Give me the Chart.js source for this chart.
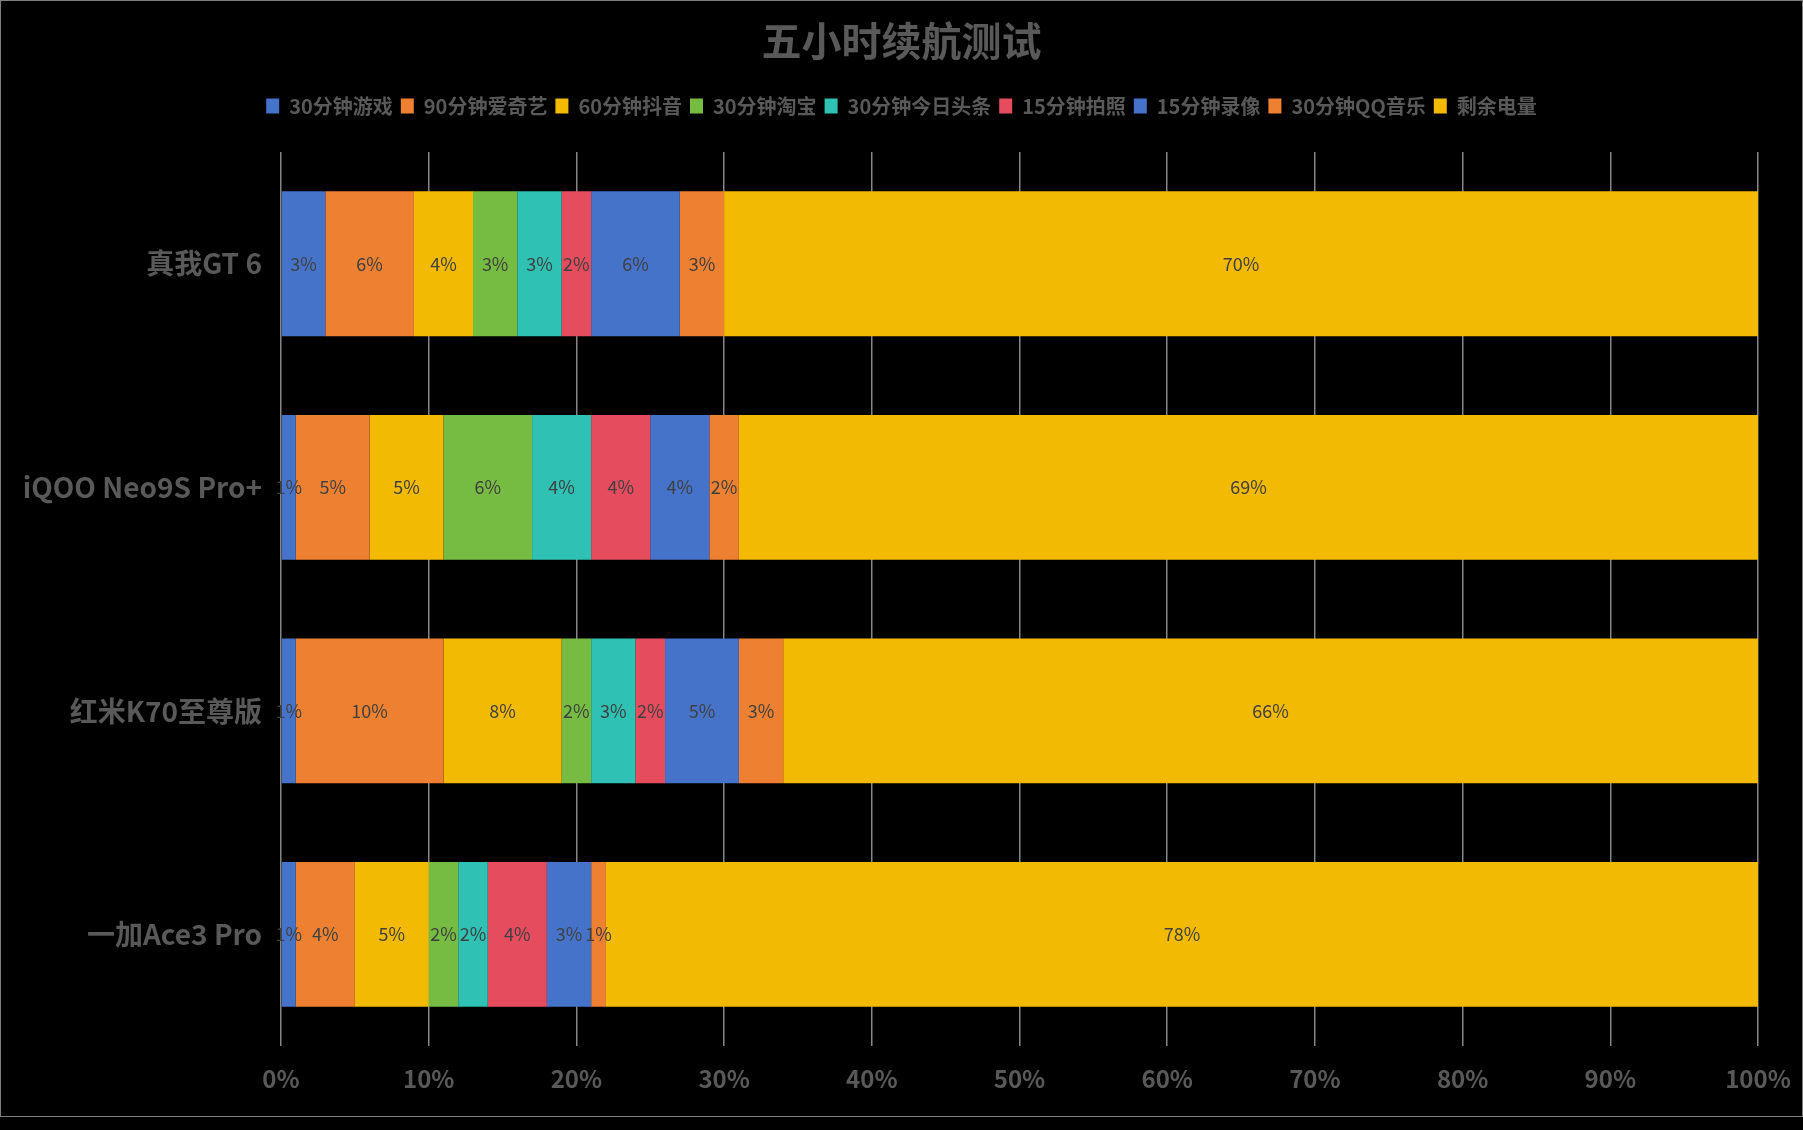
<!DOCTYPE html>
<html>
<head>
<meta charset="utf-8">
<script src="https://cdn.jsdelivr.net/npm/chart.js@4.4.1/dist/chart.umd.min.js"></script>
<style>
  html, body { margin: 0; padding: 0; background: #000; }
  #wrap { position: absolute; left: 0; top: 0; width: 1801px; height: 1115px; border: 1px solid #7f7f7f; }
</style>
</head>
<body>
<div id="wrap"><canvas id="batteryChart"></canvas></div>
<script>
// phones, top to bottom
const phones = ['真我GT 6', 'iQOO Neo9S Pro+', '红米K70至尊版', '一加Ace3 Pro'];

// battery used per task (%)
const game30 = [3, 1, 1, 1];
const iqiyi90 = [6, 5, 10, 4];
const douyin60 = [4, 5, 8, 5];
const taobao30 = [3, 6, 2, 2];
const toutiao30 = [3, 4, 3, 2];
const photo15 = [2, 4, 2, 4];
const video15 = [6, 4, 5, 3];
const qqmusic30 = [3, 2, 3, 1];
const remaining = [70, 69, 66, 78];

const seriesNames = ['30分钟游戏', '90分钟爱奇艺', '60分钟抖音', '30分钟淘宝', '30分钟今日头条',
  '15分钟拍照', '15分钟录像', '30分钟QQ音乐', '剩余电量'];
const seriesData = [game30, iqiyi90, douyin60, taobao30, toutiao30, photo15, video15, qqmusic30, remaining];
const seriesColors = ['#4673CA', '#EE8131', '#F2BA02', '#77BC42', '#2FC1B3', '#E54C5E', '#4673CA', '#EE8131', '#F2BA02'];

const FONT = '"Noto Sans CJK SC", "Noto Sans", sans-serif';

// draws the % text in the middle of each segment
const valueLabels = {
  id: 'valueLabels',
  afterDatasetsDraw(chart) {
    const ctx = chart.ctx;
    ctx.save();
    ctx.font = '18px ' + FONT;
    ctx.fillStyle = '#404040';
    ctx.textAlign = 'center';
    ctx.textBaseline = 'middle';
    chart.data.datasets.forEach((ds, i) => {
      chart.getDatasetMeta(i).data.forEach((bar, j) => {
        ctx.fillText(ds.data[j] + '%', (bar.x + bar.base) / 2, bar.y);
      });
    });
    ctx.restore();
  }
};

// extra gap between legend and plot
const legendGap = {
  id: 'legendGap',
  beforeInit(chart) {
    const fit = chart.legend.fit;
    chart.legend.fit = function () {
      fit.call(this);
      this.height += 26;
    };
  }
};

const ctx = document.getElementById('batteryChart').getContext('2d');

new Chart(ctx, {
  type: 'bar',
  data: {
    labels: phones,
    datasets: seriesNames.map((name, i) => ({
      label: name,
      data: seriesData[i],
      backgroundColor: seriesColors[i],
      borderWidth: 0,
      barPercentage: 1,
      categoryPercentage: 0.648
    }))
  },
  options: {
    indexAxis: 'y',
    responsive: true,
    maintainAspectRatio: false,
    animation: false,
    layout: {
      padding: { left: 0, right: 0, top: 0, bottom: 5 }
    },
    plugins: {
      title: {
        display: true,
        text: '五小时续航测试',
        color: '#595959',
        font: { family: FONT, size: 40, weight: 'bold' },
        padding: { top: 16, bottom: 23 }
      },
      legend: {
        position: 'top',
        labels: {
          color: '#595959',
          font: { family: FONT, size: 20, weight: 'bold' },
          boxWidth: 13,
          boxHeight: 15,
          padding: 8
        }
      },
      tooltip: { enabled: false }
    },
    scales: {
      x: {
        stacked: true,
        min: 0,
        max: 100,
        ticks: {
          stepSize: 10,
          color: '#595959',
          font: { family: FONT, size: 24, weight: 'bold' },
          padding: 18,
          callback: v => v + '%'
        },
        grid: { color: '#868686', lineWidth: 1.5, drawTicks: false },
        border: { display: false },
        afterFit(scale) {
          scale.paddingLeft = 0;
          scale.paddingRight = 44;
        }
      },
      y: {
        stacked: true,
        ticks: {
          color: '#595959',
          font: { family: FONT, size: 28, weight: 'bold' },
          padding: 19
        },
        grid: { display: false, drawTicks: false },
        border: { display: false },
        afterFit(scale) { scale.width = 280; }
      }
    }
  },
  plugins: [valueLabels, legendGap]
});
</script>
</body>
</html>
